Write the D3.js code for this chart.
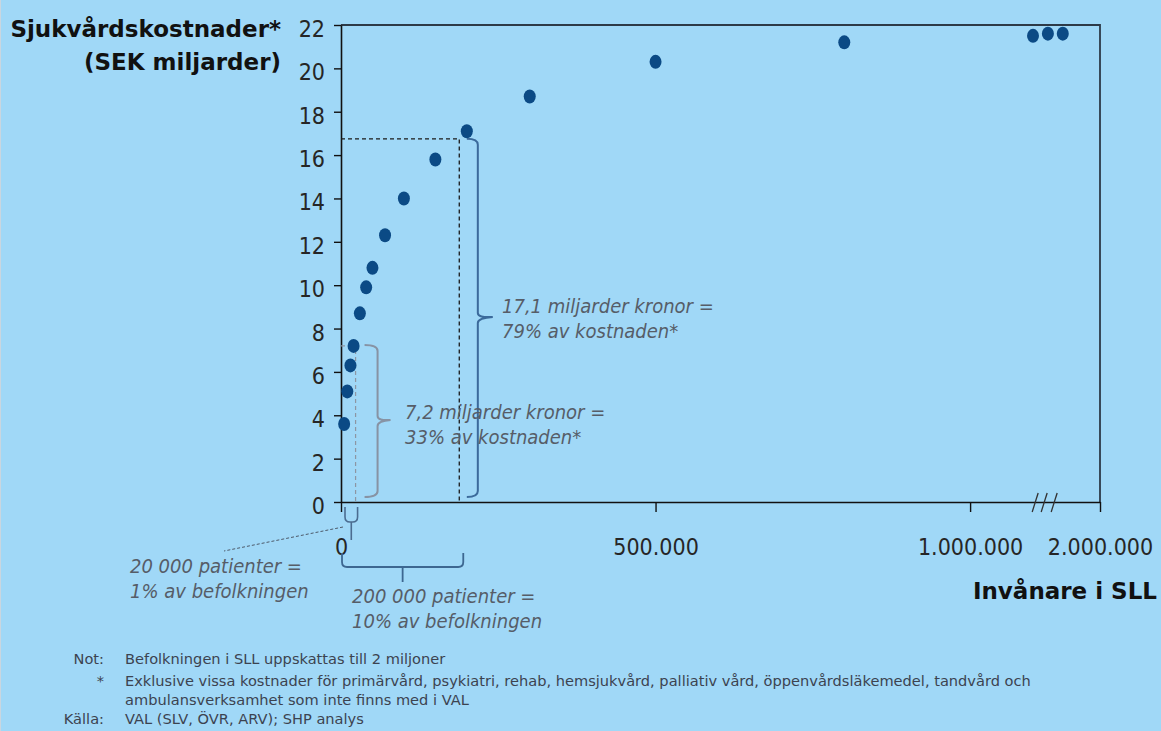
<!DOCTYPE html>
<html>
<head>
<meta charset="utf-8">
<script src="https://cdn.jsdelivr.net/npm/d3@7/dist/d3.min.js"></script>
<style>
  html, body { margin: 0; padding: 0; background: #a0d8f7; }
  svg { display: block; }
  text { font-family: "DejaVu Sans Condensed", "DejaVu Sans", Verdana, sans-serif; }
  .wide { font-family: "DejaVu Sans", Verdana, sans-serif; }
</style>
</head>
<body>
<svg id="chart" width="1161" height="731"></svg>
<script>
// Cumulative healthcare cost (SEK billions) against number of residents, most costly first
const patients = [5000, 10000, 15000, 20000, 30000, 40000, 50000, 70000, 100000, 150000,
                  200000, 300000, 500000, 800000, 1100000, 1300000, 1500000];
const costs    = [3.6, 5.1, 6.3, 7.2, 8.7, 9.9, 10.8, 12.3, 14.0, 15.8,
                  17.1, 18.7, 20.3, 21.2, 21.5, 21.6, 21.6];

const yTicks = [0, 2, 4, 6, 8, 10, 12, 14, 16, 18, 20, 22];
const xTicks = [0, 500000, 1000000, 2000000];

// Annotated cut-offs
const top1Patients = 20000,  top1Cost = 7.2;
const top10Patients = 200000, top10Cost = 17.1;
const guideCost = 16.75, guidePatients = 188000;

const yTitle = ["Sjukvårdskostnader*", "(SEK miljarder)"];
const xTitle = "Invånare i SLL";
const note1 = ["7,2 miljarder kronor =", "33% av kostnaden*"];
const note10 = ["17,1 miljarder kronor =", "79% av kostnaden*"];
const notePat1 = ["20 000 patienter =", "1% av befolkningen"];
const notePat10 = ["200 000 patienter =", "10% av befolkningen"];
const footLabels = ["Not:", "*", "Källa:"];
const footLines = [
  ["Befolkningen i SLL uppskattas till 2 miljoner"],
  ["Exklusive vissa kostnader för primärvård, psykiatri, rehab, hemsjukvård, palliativ vård, öppenvårdsläkemedel, tandvård och",
   "ambulansverksamhet som inte finns med i VAL"],
  ["VAL (SLV, ÖVR, ARV); SHP analys"]
];

const svg = d3.select("#chart");
const W = 1161, H = 731;
const plotLeft = 341, plotRight = 1100, plotTop = 25, plotBottom = 502;

svg.append("rect").attr("width", W).attr("height", H).attr("fill", "#a0d8f7");
svg.append("line").attr("x1", 0.5).attr("x2", 0.5).attr("y1", 0).attr("y2", H)
  .attr("stroke", "#c9d6e0").attr("stroke-width", 1);

// x scale: the stretch after 1.1 million is compressed (axis break)
const x = d3.scaleLinear().domain([0, 1100000, 2000000]).range([plotLeft, 1033, plotRight]);
const y = d3.scaleLinear().domain([0, 22]).range([plotBottom, plotTop]);

const sv = d3.formatLocale({ decimal: ",", thousands: ".", grouping: [3], currency: ["", " kr"] });
const fmtX = sv.format(",d");

// frame top and right
svg.append("path")
  .attr("d", `M${x(0)},${y(22)} H${x(2000000)} V${y(0)}`)
  .attr("fill", "none").attr("stroke", "#2d3a47").attr("stroke-width", 1.8);

// y axis
const gy = svg.append("g").attr("transform", `translate(${plotLeft},0)`)
  .call(d3.axisLeft(y).tickValues(yTicks).tickSize(7).tickSizeOuter(0).tickPadding(9));
gy.select(".domain").attr("stroke", "#111").attr("stroke-width", 1.6);
gy.selectAll(".tick line").attr("stroke", "#111").attr("stroke-width", 1.4);
gy.selectAll(".tick text").attr("font-size", 23).attr("fill", "#262626").attr("dy", "0.5em")
  .style("font-family", '"DejaVu Sans Condensed", "DejaVu Sans", sans-serif');

// x axis
const gx = svg.append("g").attr("transform", `translate(0,${plotBottom})`)
  .call(d3.axisBottom(x).tickValues(xTicks).tickFormat(fmtX).tickSize(10).tickSizeOuter(0));
gx.select(".domain").attr("stroke", "#111").attr("stroke-width", 1.6);
gx.selectAll(".tick line").attr("stroke", "#111").attr("stroke-width", 1.4);
gx.selectAll(".tick text").attr("font-size", 23).attr("fill", "#262626")
  .attr("y", 53).attr("dy", 0)
  .style("font-family", '"DejaVu Sans Condensed", "DejaVu Sans", sans-serif');

// axis break marks
const bx = x(1250000);
[-9, 0, 10].forEach(o => {
  svg.append("line")
    .attr("x1", bx + o - 3).attr("y1", plotBottom + 10)
    .attr("x2", bx + o + 3).attr("y2", plotBottom - 9)
    .attr("stroke", "#333").attr("stroke-width", 1.3);
});

// axis titles
const yt = svg.append("text").attr("class", "wide").attr("text-anchor", "end")
  .attr("font-weight", "bold").attr("font-size", 23).attr("fill", "#111");
yTitle.forEach((t, i) => yt.append("tspan").attr("x", 281).attr("y", 37 + i * 33).text(t));

svg.append("text").attr("class", "wide").attr("x", 1157).attr("y", 599).attr("text-anchor", "end")
  .attr("font-weight", "bold").attr("font-size", 23).attr("fill", "#111").text(xTitle);

// guide lines for the 10% cut-off
svg.append("path")
  .attr("d", `M${x(0)},${y(guideCost)} H${x(guidePatients)} V${y(0)}`)
  .attr("fill", "none").attr("stroke", "#1a1a1a").attr("stroke-width", 1.3)
  .attr("stroke-dasharray", "4,3");

// guide lines for the 1% cut-off
svg.append("path")
  .attr("d", `M${x(0)},${y(top1Cost)} H${x(top1Patients)}`)
  .attr("fill", "none").attr("stroke", "#8d96a3").attr("stroke-width", 1.2)
  .attr("stroke-dasharray", "4,3");
svg.append("line")
  .attr("x1", x(top1Patients) + 2).attr("x2", x(top1Patients) + 2)
  .attr("y1", y(top1Cost) + 4).attr("y2", y(0))
  .attr("stroke", "#8d96a3").attr("stroke-width", 1.2).attr("stroke-dasharray", "4,3");

// curly braces
function vBrace(xh, xs, xt, y0, y1) {
  const ym = (y0 + y1) / 2, r = 6;
  return `M${xh},${y0} Q${xs},${y0} ${xs},${y0 + r} L${xs},${ym - 5} Q${xs},${ym} ${xt},${ym - 1}` +
         ` M${xt},${ym - 1} Q${xs},${ym} ${xs},${ym + 5} L${xs},${y1 - r} Q${xs},${y1} ${xh},${y1}`;
}
function hBrace(x0, x1, yEnd, yBar, yStem) {
  const xm = (x0 + x1) / 2, r = 5;
  return `M${x0},${yEnd} L${x0},${yBar - r} Q${x0},${yBar} ${x0 + r},${yBar} L${x1 - r},${yBar}` +
         ` Q${x1},${yBar} ${x1},${yBar - r} L${x1},${yEnd} M${xm},${yBar} L${xm},${yStem}`;
}

svg.append("path")
  .attr("d", vBrace(x(top10Patients), x(top10Patients) + 11, x(top10Patients) + 26, y(guideCost), y(0) - 5))
  .attr("fill", "none").attr("stroke", "#3b6a9b").attr("stroke-width", 2);
svg.append("path")
  .attr("d", vBrace(x(top1Patients) + 11, x(top1Patients) + 24, x(top1Patients) + 37, y(top1Cost) - 1, y(0) - 5))
  .attr("fill", "none").attr("stroke", "#8793a4").attr("stroke-width", 2);

svg.append("path")
  .attr("d", hBrace(x(0) + 1, x(guidePatients) + 4, plotBottom + 51, plotBottom + 65, plotBottom + 80))
  .attr("fill", "none").attr("stroke", "#3d6791").attr("stroke-width", 1.8);
svg.append("path")
  .attr("d", hBrace(x(0) + 4, x(top1Patients) + 4, plotBottom + 5, plotBottom + 20, plotBottom + 38))
  .attr("fill", "none").attr("stroke", "#4b6c90").attr("stroke-width", 1.6);

// leader from the 1% brace to its note
svg.append("line").attr("x1", x(0) + 2).attr("y1", plotBottom + 25).attr("x2", 224).attr("y2", 551)
  .attr("stroke", "#4d5a6a").attr("stroke-width", 1).attr("stroke-dasharray", "3,2");

// annotation notes
function note(lines, x0, y0) {
  const t = svg.append("text").attr("font-style", "italic").attr("font-size", 20)
    .attr("fill", "#565d68");
  lines.forEach((s, i) => t.append("tspan").attr("x", x0).attr("y", y0 + i * 25).text(s));
}
note(note10, 502, 313);
note(note1, 405, 419);
note(notePat1, 130, 573);
note(notePat10, 352, 603);

// data points
svg.append("g").selectAll("ellipse").data(patients)
  .join("ellipse")
  .attr("cx", (d) => x(d))
  .attr("cy", (d, i) => y(costs[i]))
  .attr("rx", 6).attr("ry", 7)
  .attr("fill", "#0b4a85");

// footnotes
const fy = [664, 686, 724];
footLabels.forEach((lab, i) => {
  svg.append("text").attr("class", "wide").attr("x", 104).attr("y", fy[i]).attr("text-anchor", "end")
    .attr("font-size", 14.6).attr("fill", "#3c4350").text(lab);
  footLines[i].forEach((s, j) => {
    svg.append("text").attr("class", "wide").attr("x", 125).attr("y", fy[i] + j * 19)
      .attr("font-size", 14.6).attr("fill", "#3c4350").text(s);
  });
});
</script>
</body>
</html>
